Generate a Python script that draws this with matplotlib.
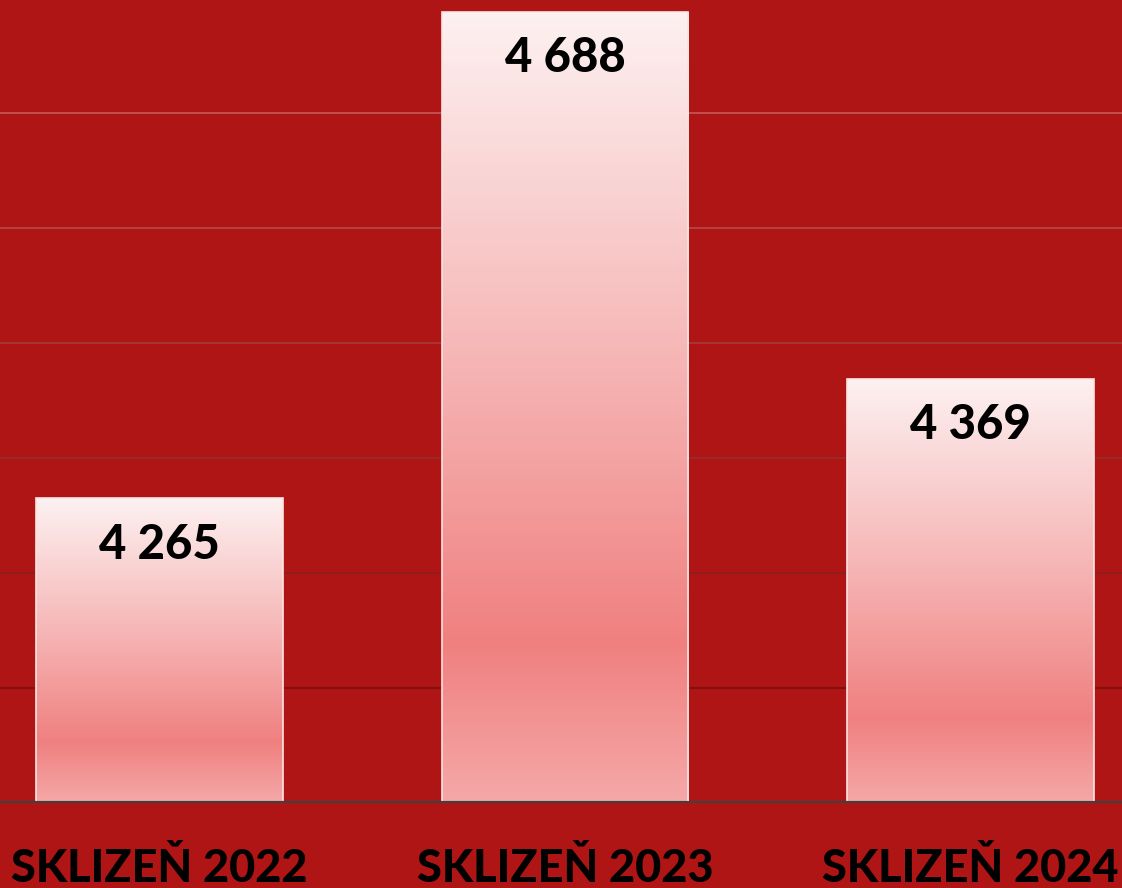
import matplotlib.pyplot as plt
import numpy as np
from matplotlib.colors import LinearSegmentedColormap
from matplotlib.transforms import blended_transform_factory

categories = ['SKLIZEŇ 2022', 'SKLIZEŇ 2023', 'SKLIZEŇ 2024']
values = [4265, 4688, 4369]
value_labels = ['4 265', '4 688', '4 369']
grid_levels = [4100, 4200, 4300, 4400, 4500, 4600]

bg = '#AF1515'
grad = LinearSegmentedColormap.from_list(
    'bar', [(0.0, '#F5A8A8'), (0.2, '#F08080'), (0.55, '#F6B4B4'), (1.0, '#FDF1F1')])
grid_cmap = LinearSegmentedColormap.from_list('grid', ['#7A1010', '#C45A5A'])

fig = plt.figure(figsize=(11.22, 8.88), dpi=100)
fig.patch.set_facecolor(bg)
ax = fig.add_axes([0, 85 / 888, 1, 803 / 888])
ax.set_facecolor(bg)

ax.tick_params(left=False, bottom=False, labelleft=False, labelbottom=False)
for s in ax.spines.values():
    s.set_visible(False)
for k, g in enumerate(grid_levels):
    ax.axhline(g, color=grid_cmap(k / (len(grid_levels) - 1)), linewidth=1.2, zorder=1)
ax.axhline(4000, color='#404040', linewidth=3, zorder=5)

bars = ax.bar(range(len(values)), values, width=0.609,
              color='none', edgecolor='#FBE3E3', linewidth=1.2, zorder=3)
gradient = np.linspace(0, 1, 256).reshape(-1, 1)
for bar in bars:
    x0 = bar.get_x()
    im = ax.imshow(gradient, cmap=grad, aspect='auto', origin='lower',
                   extent=[x0, x0 + bar.get_width(), 4000, bar.get_height()], zorder=2)
    im.set_clip_path(bar)

ax.set_xlim(-0.3933, 2.3736)
ax.set_ylim(4000, 4000 + 803 / 1.15)

for i, (v, lab) in enumerate(zip(values, value_labels)):
    ax.annotate(lab, (i, v), xytext=(0, -33.5), textcoords='offset points',
                ha='center', va='center', fontsize=34, fontweight='black',
                family='Lato', color='black', zorder=6)

trans = blended_transform_factory(ax.transData, ax.transAxes)
for i, c in enumerate(categories):
    ax.text(i, -0.098, c, transform=trans, ha='center', va='baseline',
            fontsize=32.5, fontweight='black', family='Lato', color='black',
            clip_on=False)

fig.savefig('out.png', dpi=100, facecolor=bg)
